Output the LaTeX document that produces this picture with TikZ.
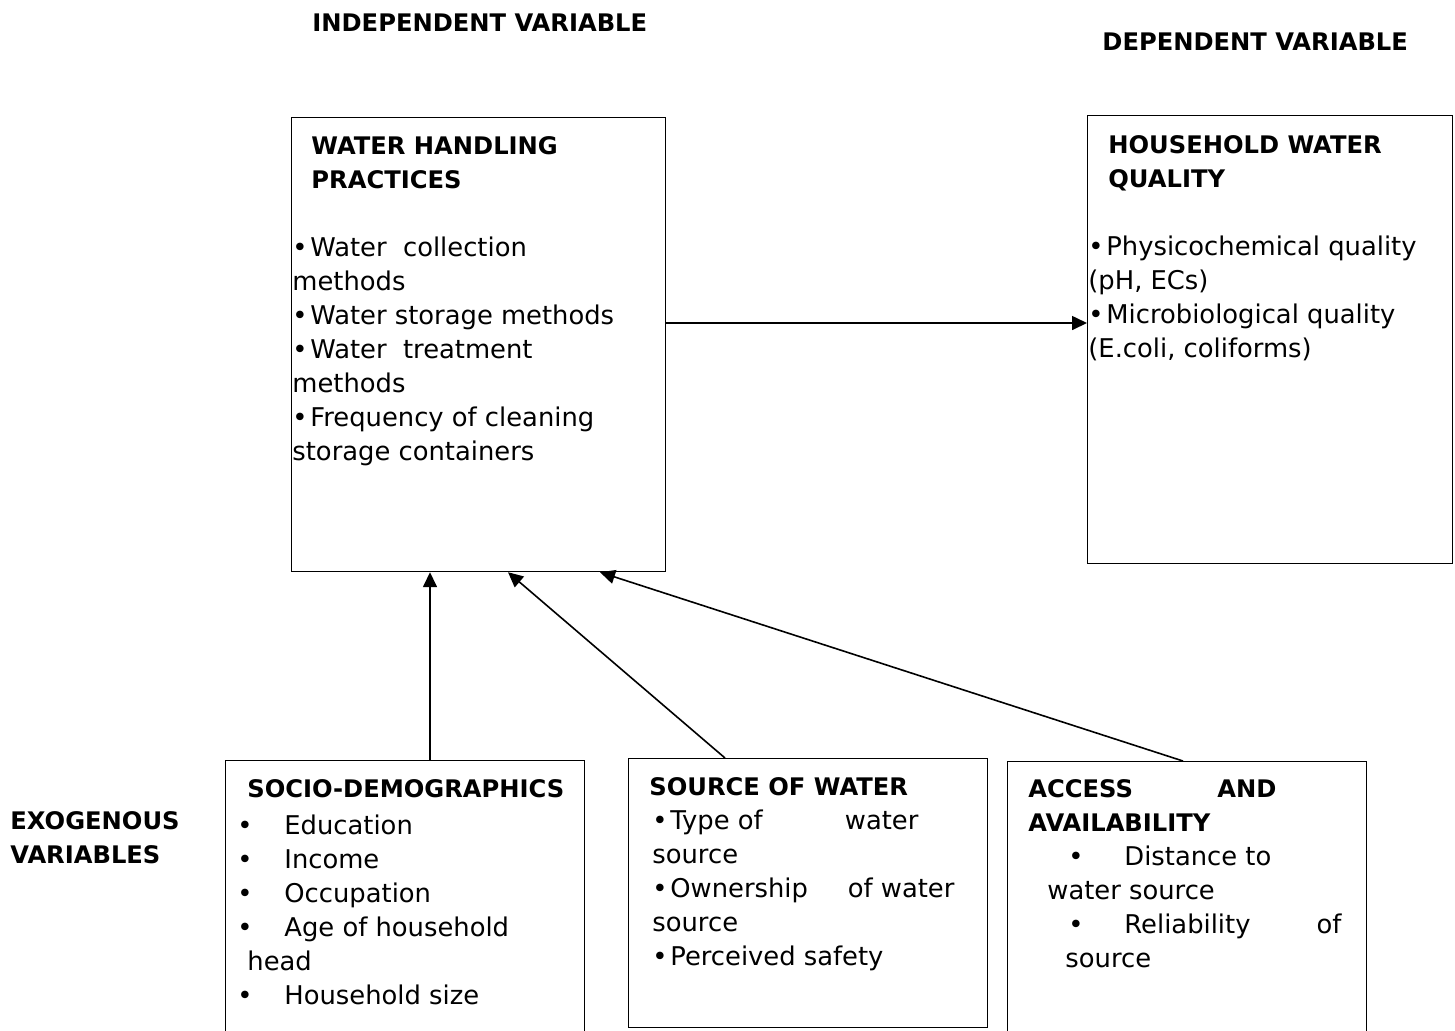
\documentclass[tikz,border=0pt]{standalone}
\usepackage{fontspec}
\setmainfont{DejaVu Sans}
\usetikzlibrary{arrows.meta}

\newcommand\bodyfont{\fontsize{12.9}{17}\selectfont}
\newcommand\hd[1]{{\fontsize{12.1}{17}\selectfont\bfseries #1}}
\newcommand\bul{\textbullet\hspace{1.4pt}}
\newcommand\wbul{\textbullet\hspace{15.9pt}}

\tikzset{
  varbox/.style={draw, line width=0.6pt, anchor=north west, inner sep=0pt},
  txt/.style={anchor=north west, inner sep=0pt, align=left, font=\bodyfont},
  link/.style={line width=0.8pt, -{Triangle[length=7.5pt,width=7pt]}}
}

\begin{document}
\begin{tikzpicture}[x=0.5pt, y=-0.5pt]
  \useasboundingbox (0,0) rectangle (1455,1030);
  \clip (0,0) rectangle (1455,1030);

  % boxes
  \node[varbox, minimum width=187pt, minimum height=227pt] (whp) at (291,117) {};
  \node[varbox, minimum width=182.5pt, minimum height=224pt] (hwq) at (1087,115) {};
  \node[varbox, minimum width=179.5pt, minimum height=150pt] (socio) at (225,760) {};
  \node[varbox, minimum width=179.5pt, minimum height=134.5pt] (source) at (628,758) {};
  \node[varbox, minimum width=179.5pt, minimum height=149.5pt] (access) at (1007,761) {};

  % headings
  \node[txt] (indep) at (312,7) {\strut\hd{INDEPENDENT VARIABLE}};
  \node[txt] (dep) at (1102,26) {\strut\hd{DEPENDENT VARIABLE}};
  \node[txt] (exo) at (10,805) {\strut\hd{EXOGENOUS}\\\hd{VARIABLES}};

  % box contents
  \node[txt] (whptext) at (292,130) {\strut\hspace*{9.5pt}\hd{WATER HANDLING}\\
    \hspace*{9.5pt}\hd{PRACTICES}\\[17pt]
    \bul Water\ \ collection\\
    methods\\
    \bul Water storage methods\\
    \bul Water\ \ treatment\\
    methods\\
    \bul Frequency of cleaning\\
    storage containers};
  \node[txt] (hwqtext) at (1088,129) {\strut\hspace*{10pt}\hd{HOUSEHOLD WATER}\\
    \hspace*{10pt}\hd{QUALITY}\\[17pt]
    \bul Physicochemical quality\\
    (pH, ECs)\\
    \bul Microbiological quality\\
    (E.coli, coliforms)};
  \node[txt] (sociotext) at (237,773) {\strut\hspace*{5pt}\hd{SOCIO-DEMOGRAPHICS}\\[1.5pt]
    \wbul Education\\
    \wbul Income\\
    \wbul Occupation\\
    \wbul Age of household\\
    \hspace*{5pt}head\\
    \wbul Household size};
  \node[txt] (sourcetext) at (649,771) {\strut\hd{SOURCE OF WATER}\\
    \hspace*{1.5pt}\bul\hbox to 124pt{Type of\hfill water}\\
    \hspace*{1.5pt}source\\
    \hspace*{1.5pt}\bul\hbox to 142pt{Ownership\hfill of water}\\
    \hspace*{1.5pt}source\\
    \hspace*{1.5pt}\bul Perceived safety};
  \node[txt] (accesstext) at (1028,773) {\strut\hbox to 124pt{\hd{ACCESS}\hfill\hd{AND}}\\
    \hd{AVAILABILITY}\\
    \hspace*{20pt}\textbullet\hspace{20.4pt}Distance to\\
    \hspace*{9.5pt}water source\\
    \hspace*{20pt}\hbox to 136.5pt{\textbullet\hspace{20.4pt}Reliability\hfill of}\\
    \hspace*{18.5pt}source};

  % arrows
  \draw[link] ([yshift=-103pt]whp.north east) -- ([yshift=-104pt]hwq.north west);
  \draw[link] ([xshift=102.5pt]socio.north west) -- ([xshift=69.5pt]whp.south west);
  \draw[link] ([xshift=48.5pt]source.north west) -- ([xshift=108.5pt]whp.south west);
  \draw[link] ([xshift=88pt]access.north west) -- ([xshift=154.5pt]whp.south west);
\end{tikzpicture}
\end{document}
